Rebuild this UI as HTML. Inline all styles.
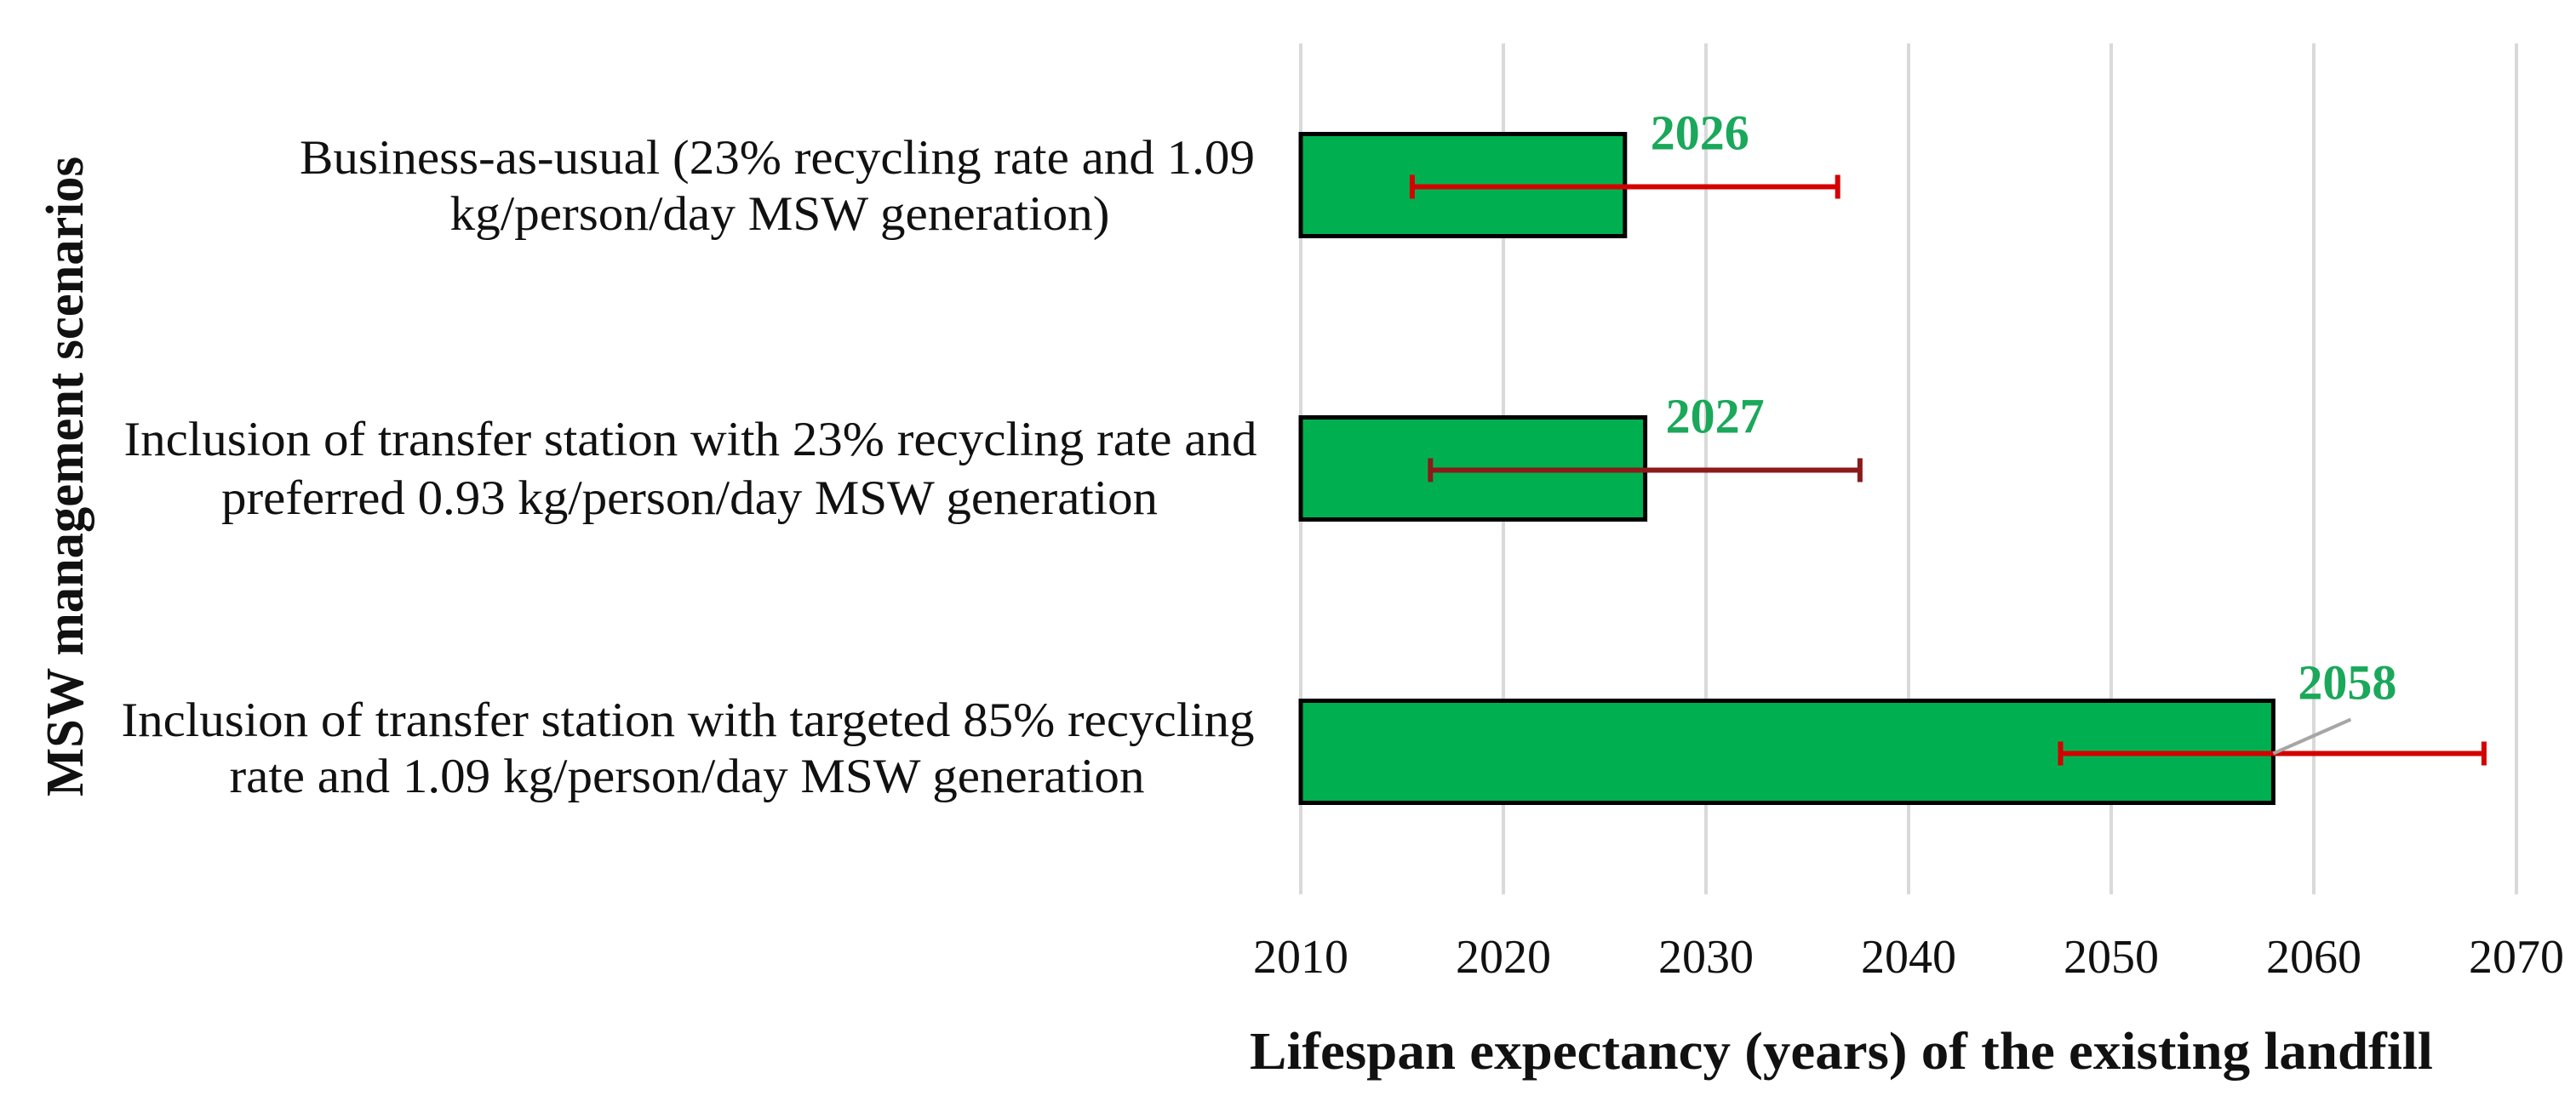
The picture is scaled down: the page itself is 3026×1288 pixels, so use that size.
<!DOCTYPE html>
<html><head><meta charset="utf-8"><style>
html,body{margin:0;padding:0;background:#fff;}
svg{display:block;font-family:"Liberation Serif","Times New Roman",serif;}
</style></head><body>
<svg id="chart" width="3026" height="1288" viewBox="0 0 3026 1288">
<g id="grid"></g>
<g id="bars"></g>
<g id="errs"></g>
<g id="labels"></g>
<g id="ticks"></g>
<g font-size="57" fill="#111">
<text x="913" y="204" text-anchor="middle" textLength="1122" lengthAdjust="spacingAndGlyphs">Business-as-usual (23% recycling rate and 1.09</text>
<text x="916" y="270" text-anchor="middle" textLength="775" lengthAdjust="spacingAndGlyphs">kg/person/day MSW generation)</text>
<text x="811" y="535" text-anchor="middle" textLength="1331" lengthAdjust="spacingAndGlyphs">Inclusion of transfer station with 23% recycling rate and</text>
<text x="810" y="604" text-anchor="middle" textLength="1100" lengthAdjust="spacingAndGlyphs">preferred 0.93 kg/person/day MSW generation</text>
<text x="808" y="865" text-anchor="middle" textLength="1331" lengthAdjust="spacingAndGlyphs">Inclusion of transfer station with targeted 85% recycling</text>
<text x="807" y="931" text-anchor="middle" textLength="1075" lengthAdjust="spacingAndGlyphs">rate and 1.09 kg/person/day MSW generation</text>
</g>
<text transform="translate(97,560) rotate(-90)" text-anchor="middle" font-size="62" font-weight="bold" fill="#111" textLength="752" lengthAdjust="spacingAndGlyphs">MSW management scenarios</text>
<text x="2163" y="1256" text-anchor="middle" font-size="62" font-weight="bold" fill="#111" textLength="1390" lengthAdjust="spacingAndGlyphs">Lifespan expectancy (years) of the existing landfill</text>
</svg>
<script>
const categories=["Business-as-usual","Transfer station 23% recycling 0.93 kg","Transfer station 85% recycling 1.09 kg"];
const values=[2026,2027,2058];
const errLow=[10.5,10.6,10.5];
const errHigh=[10.5,10.6,10.4];
const ticks=[2010,2020,2030,2040,2050,2060,2070];
const tickLabels=["2010","2020","2030","2040","2050","2060","2070"];
const errColors=["#d40000","#8b1a1a","#d40000"];
const NS="http://www.w3.org/2000/svg";
const x0=1528,x1=2956,xmin=2010,xmax=2070;
function X(v){return x0+(v-xmin)/(xmax-xmin)*(x1-x0);}
const bandTop=51,bandH=333;
function Yc(i){return bandTop+bandH*(i+0.5);}
const barH=120;
function mk(tag,attrs,parent){const e=document.createElementNS(NS,tag);for(const k in attrs)e.setAttribute(k,attrs[k]);parent.appendChild(e);return e;}
const grid=document.getElementById('grid');
ticks.forEach((t,i)=>{
  const l=mk('line',{x1:X(t),x2:X(t),y1:51,y2:1051,stroke:'#d9d9d9','stroke-width':4},grid);
  
  
  const tx=mk('text',{x:X(t),y:1143,'text-anchor':'middle','font-size':56,fill:'#111'},document.getElementById('ticks'));
  tx.textContent=tickLabels[i];
  
  
});
const bars=document.getElementById('bars'),errs=document.getElementById('errs'),labs=document.getElementById('labels');
values.forEach((v,i)=>{
  const yc=Yc(i);
  const r=mk('rect',{x:X(xmin),y:yc-barH/2,width:X(v)-X(xmin),height:barH,fill:'#00b050',stroke:'#000','stroke-width':5},bars);
  
  
  const ey=yc+2,lo=X(v-errLow[i]),hi=X(v+errHigh[i]),c=errColors[i];
  const g=mk('g',{stroke:c,'stroke-width':6},errs);
  
  
  mk('line',{x1:lo,x2:hi,y1:ey,y2:ey},g);
  mk('line',{x1:lo,x2:lo,y1:ey-14,y2:ey+14},g);
  mk('line',{x1:hi,x2:hi,y1:ey-14,y2:ey+14},g);
  let lx,ly;
  if(i===2){
    lx=X(v)+29;ly=yc-62;
    const ld=mk('line',{x1:X(v),y1:ey,x2:X(v)+91,y2:yc-38,stroke:'#a6a6a6','stroke-width':4},labs);
    
    
  } else {
    ly=yc-42;
    lx = i===0? X(v)+30 : X(v)+24;
  }
  const t=mk('text',{x:lx,y:ly,'font-size':58,'font-weight':'bold',fill:'#1aa85a'},labs);
  t.textContent=String(v);
  
  
});
</script>
</body></html>
